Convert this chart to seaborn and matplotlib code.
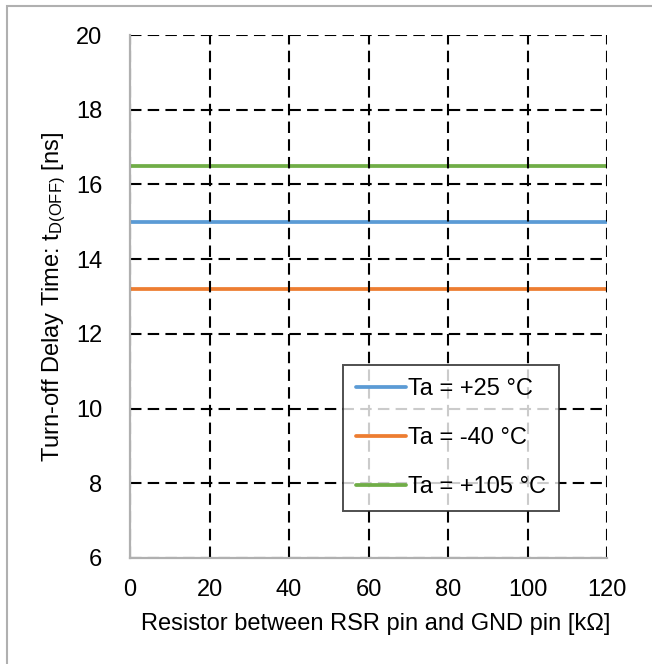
import numpy as np
import pandas as pd
import matplotlib
matplotlib.use('Agg')
import matplotlib.pyplot as plt
import seaborn as sns

# ── Data ─────────────────────────────────────────────────────────────────────
resistance_kohm = [0, 20, 40, 60, 80, 100, 120]
t_off_25c = [15.0, 15.0, 15.0, 15.0, 15.0, 15.0, 15.0]
t_off_m40c = [13.2, 13.2, 13.2, 13.2, 13.2, 13.2, 13.2]
t_off_105c = [16.5, 16.5, 16.5, 16.5, 16.5, 16.5, 16.5]
series_labels = ['Ta = +25 °C', 'Ta = -40 °C', 'Ta = +105 °C']
series_colors = ['#5B9BD5', '#ED7D31', '#70AD47']
x_ticks = [0, 20, 40, 60, 80, 100, 120]
y_ticks = [6, 8, 10, 12, 14, 16, 18, 20]

df = pd.DataFrame({
    'R': resistance_kohm * 3,
    't': t_off_25c + t_off_m40c + t_off_105c,
    'series': [series_labels[0]] * 7 + [series_labels[1]] * 7 + [series_labels[2]] * 7,
})

# ── Style ────────────────────────────────────────────────────────────────────
sns.set_style('white')
plt.rcParams['font.family'] = ['Liberation Sans', 'DejaVu Sans']
plt.rcParams['mathtext.default'] = 'regular'
plt.rcParams['text.color'] = 'black'
plt.rcParams['axes.labelcolor'] = 'black'

fig = plt.figure(figsize=(6.52, 6.64), dpi=100)
ax = fig.add_axes([130 / 652, 1 - 558 / 664, 477 / 652, 523 / 664])

sns.lineplot(data=df, x='R', y='t', hue='series', hue_order=series_labels,
             palette=series_colors, linewidth=2.7, ax=ax, zorder=2)

ax.set_xlim(0, 120)
ax.set_ylim(6, 20)
ax.set_xticks(x_ticks)
ax.set_yticks(y_ticks)
ax.tick_params(axis='both', length=0, labelsize=17, colors='black')
ax.tick_params(axis='y', pad=20)
ax.tick_params(axis='x', pad=15)

# dashed black grid on top of the curves
ax.grid(True, color='black', linestyle=(0, (5.5, 3.0)), linewidth=1.5, zorder=3)
ax.set_axisbelow(False)

for side in ['top', 'right']:
    ax.spines[side].set_visible(False)
for side in ['left', 'bottom']:
    ax.spines[side].set_color('#B0B0B0')
    ax.spines[side].set_linewidth(1.6)
    ax.spines[side].set_zorder(4)

ax.set_xlabel('Resistor between RSR pin and GND pin [kΩ]', fontsize=17)
ax.set_ylabel('Turn-off Delay Time: t$_{D(OFF)}$ [ns]', fontsize=17)
ax.xaxis.set_label_coords(0.516, -0.105)
ax.yaxis.set_label_coords(-0.13, 0.5)

leg = ax.legend(loc='upper left', bbox_to_anchor=(0.4465, 0.369), borderaxespad=0,
                fontsize=17, frameon=True, fancybox=False, handlelength=2.1,
                handletextpad=0.12, labelspacing=1.15, borderpad=0.55)
leg.get_frame().set_edgecolor('#222222')
leg.get_frame().set_linewidth(1.4)
leg.set_zorder(5)

# outer chart-area border (cropped at right and bottom)
fig.patches.append(plt.Rectangle((7 / 652, -0.1), 1.2, 0.1 + 1 - 6 / 664,
                                 transform=fig.transFigure, fill=False,
                                 edgecolor='#B0B0B0', linewidth=1.5))

plt.savefig('out.png', dpi=100, facecolor='white')
